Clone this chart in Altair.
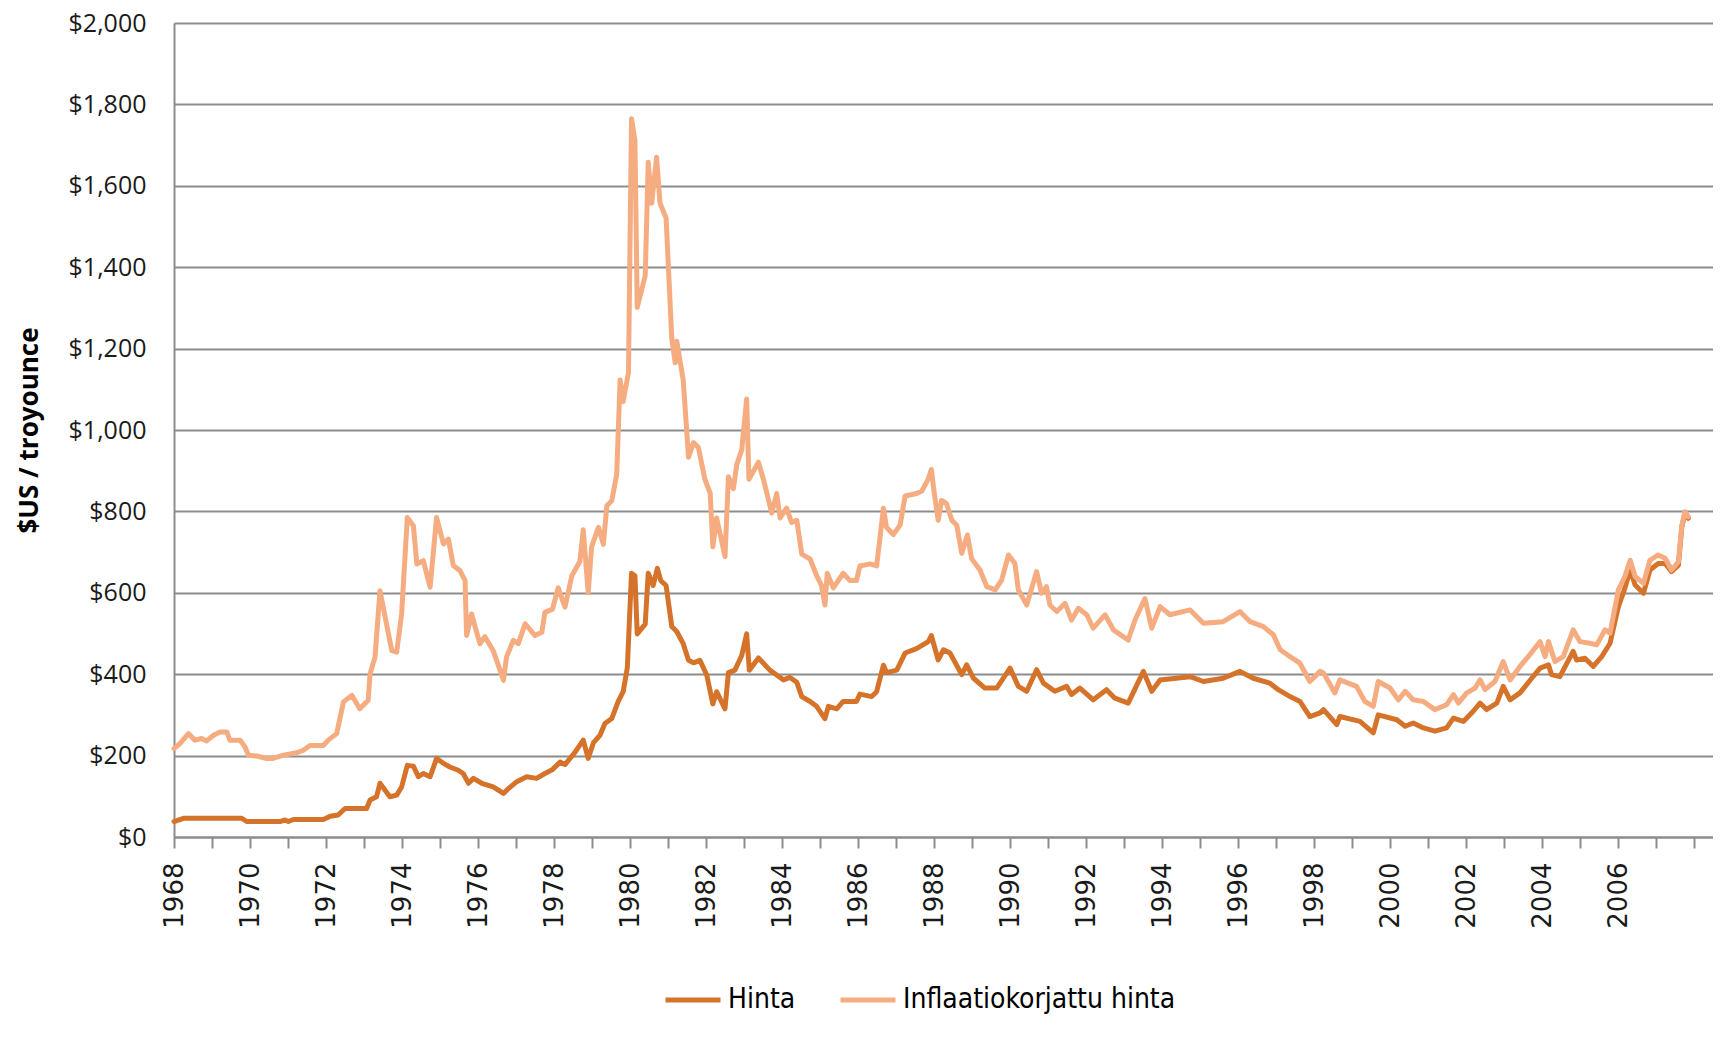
import altair as alt
import pandas as pd

# Nominal gold price (Hinta), $US / troy ounce
hinta_year = [1968.00, 1968.25, 1969.78, 1969.91, 1970.79, 1970.92, 1971.01, 1971.14, 1971.93,
              1972.11, 1972.32, 1972.50, 1973.07, 1973.16, 1973.33, 1973.42, 1973.68, 1973.86,
              1973.99, 1974.14, 1974.30, 1974.43, 1974.56, 1974.74, 1974.91, 1975.09, 1975.26,
              1975.48, 1975.61, 1975.75, 1975.88, 1976.10, 1976.40, 1976.67, 1976.80, 1977.02,
              1977.28, 1977.54, 1977.76, 1977.95, 1978.16, 1978.29, 1978.55, 1978.77, 1978.90,
              1979.04, 1979.21, 1979.34, 1979.52, 1979.69, 1979.82, 1979.93, 1980.04, 1980.13,
              1980.19, 1980.40, 1980.48, 1980.61, 1980.72, 1980.81, 1980.95, 1981.10, 1981.23,
              1981.40, 1981.54, 1981.67, 1981.84, 1982.02, 1982.18, 1982.28, 1982.50, 1982.59,
              1982.76, 1982.94, 1983.07, 1983.14, 1983.38, 1983.68, 1983.86, 1984.04, 1984.21,
              1984.39, 1984.52, 1984.74, 1984.91, 1985.13, 1985.22, 1985.44, 1985.61, 1985.96,
              1986.05, 1986.36, 1986.49, 1986.67, 1986.75, 1987.02, 1987.24, 1987.54, 1987.85,
              1987.93, 1988.11, 1988.25, 1988.42, 1988.73, 1988.86, 1989.04, 1989.34, 1989.65,
              1990.00, 1990.22, 1990.44, 1990.70, 1990.88, 1991.18, 1991.49, 1991.62, 1991.84,
              1992.19, 1992.54, 1992.76, 1993.11, 1993.51, 1993.73, 1993.95, 1994.74, 1995.09,
              1995.61, 1996.05, 1996.40, 1996.84, 1997.06, 1997.37, 1997.63, 1997.89, 1998.16,
              1998.25, 1998.60, 1998.68, 1999.21, 1999.56, 1999.69, 2000.18, 2000.40, 2000.61,
              2000.88, 2001.18, 2001.49, 2001.67, 2001.93, 2002.19, 2002.37, 2002.54, 2002.81,
              2002.98, 2003.16, 2003.42, 2003.73, 2003.95, 2004.17, 2004.25, 2004.47, 2004.82,
              2004.91, 2005.13, 2005.35, 2005.57, 2005.79, 2006.01, 2006.18, 2006.32, 2006.45,
              2006.67, 2006.84, 2007.06, 2007.24, 2007.41, 2007.59, 2007.68, 2007.76, 2007.85]
hinta_value = [38, 46, 46, 38, 38, 42, 38, 43, 43,
               51, 54, 70, 70, 91, 99, 132, 99, 103,
               123, 176, 174, 148, 156, 148, 193, 181, 172,
               164, 156, 132, 144, 132, 123, 107, 119, 136,
               148, 144, 156, 165, 184, 178, 208, 238, 193,
               232, 250, 279, 291, 333, 357, 416, 648, 642,
               499, 523, 648, 618, 660, 630, 618, 517, 505,
               475, 434, 428, 434, 398, 327, 357, 315, 404,
               410, 446, 499, 410, 440, 410, 398, 386, 392,
               380, 345, 333, 321, 291, 321, 315, 333, 333,
               351, 345, 357, 422, 404, 410, 452, 463, 480,
               495, 435, 460, 452, 399, 423, 390, 366, 366,
               415, 370, 358, 411, 378, 358, 370, 350, 366,
               337, 362, 341, 329, 407, 358, 386, 394, 382,
               390, 407, 390, 378, 362, 345, 333, 296, 305,
               313, 276, 296, 284, 256, 300, 288, 272, 280,
               268, 260, 268, 292, 284, 309, 329, 313, 329,
               370, 337, 354, 390, 415, 423, 399, 394, 456,
               435, 439, 419, 443, 476, 566, 611, 656, 619,
               599, 656, 672, 672, 652, 668, 762, 795, 783]

# Inflation-adjusted gold price (Inflaatiokorjattu hinta)
inflaatio_year = [1968.00, 1968.16, 1968.38, 1968.55, 1968.73, 1968.86, 1969.04, 1969.21, 1969.39,
                  1969.47, 1969.74, 1969.87, 1969.96, 1970.18, 1970.44, 1970.61, 1970.88, 1971.23,
                  1971.40, 1971.58, 1971.93, 1972.06, 1972.28, 1972.46, 1972.68, 1972.89, 1973.11,
                  1973.16, 1973.29, 1973.42, 1973.73, 1973.86, 1973.99, 1974.14, 1974.30, 1974.39,
                  1974.56, 1974.74, 1974.91, 1975.09, 1975.22, 1975.35, 1975.53, 1975.66, 1975.70,
                  1975.83, 1976.05, 1976.18, 1976.40, 1976.67, 1976.75, 1976.93, 1977.06, 1977.24,
                  1977.50, 1977.68, 1977.76, 1977.96, 1978.11, 1978.29, 1978.47, 1978.68, 1978.77,
                  1978.90, 1978.99, 1979.17, 1979.30, 1979.39, 1979.52, 1979.65, 1979.74, 1979.82,
                  1979.96, 1980.04, 1980.13, 1980.19, 1980.40, 1980.48, 1980.57, 1980.70, 1980.79,
                  1980.95, 1981.10, 1981.19, 1981.23, 1981.40, 1981.54, 1981.67, 1981.80, 1981.97,
                  1982.11, 1982.18, 1982.28, 1982.50, 1982.59, 1982.72, 1982.81, 1982.94, 1983.07,
                  1983.13, 1983.38, 1983.51, 1983.73, 1983.86, 1983.95, 1984.12, 1984.25, 1984.39,
                  1984.52, 1984.74, 1984.91, 1985.04, 1985.13, 1985.19, 1985.35, 1985.61, 1985.79,
                  1985.96, 1986.05, 1986.32, 1986.49, 1986.67, 1986.75, 1986.93, 1987.11, 1987.24,
                  1987.54, 1987.68, 1987.85, 1987.93, 1988.00, 1988.11, 1988.20, 1988.33, 1988.47,
                  1988.60, 1988.73, 1988.88, 1988.99, 1989.21, 1989.39, 1989.61, 1989.78, 1989.96,
                  1990.13, 1990.22, 1990.44, 1990.70, 1990.83, 1990.96, 1991.05, 1991.23, 1991.45,
                  1991.62, 1991.80, 1992.02, 1992.19, 1992.50, 1992.72, 1993.11, 1993.29, 1993.55,
                  1993.73, 1993.95, 1994.21, 1994.74, 1995.09, 1995.61, 1996.05, 1996.32, 1996.67,
                  1996.93, 1997.11, 1997.37, 1997.63, 1997.89, 1998.16, 1998.25, 1998.55, 1998.68,
                  1999.12, 1999.34, 1999.56, 1999.69, 2000.00, 2000.22, 2000.40, 2000.61, 2000.88,
                  2001.18, 2001.49, 2001.67, 2001.80, 2002.02, 2002.24, 2002.37, 2002.50, 2002.76,
                  2002.98, 2003.16, 2003.42, 2003.68, 2003.95, 2004.08, 2004.17, 2004.34, 2004.56,
                  2004.82, 2005.00, 2005.26, 2005.44, 2005.66, 2005.79, 2006.01, 2006.18, 2006.32,
                  2006.45, 2006.67, 2006.84, 2007.06, 2007.24, 2007.41, 2007.59, 2007.68, 2007.76,
                  2007.85]
inflaatio_value = [217, 230, 254, 238, 242, 236, 250, 258, 258,
                   238, 238, 221, 201, 199, 193, 193, 201, 207,
                   213, 225, 225, 238, 254, 332, 348, 315, 336,
                   401, 442, 605, 458, 454, 548, 785, 765, 671,
                   679, 614, 785, 720, 732, 667, 654, 630, 495,
                   548, 475, 492, 458, 385, 442, 483, 475, 524,
                   495, 503, 552, 560, 612, 565, 642, 677, 755,
                   600, 713, 761, 719, 814, 826, 891, 1123, 1070,
                   1141, 1765, 1711, 1301, 1379, 1658, 1557, 1670, 1557,
                   1521, 1224, 1165, 1218, 1123, 933, 969, 957, 879,
                   844, 713, 784, 689, 885, 856, 915, 951, 1076,
                   879, 921, 879, 796, 844, 784, 808, 773, 778,
                   695, 683, 642, 618, 570, 648, 612, 648, 630,
                   630, 666, 671, 666, 808, 761, 743, 767, 838,
                   844, 850, 880, 903, 850, 778, 827, 819, 778,
                   766, 697, 742, 684, 656, 615, 607, 631, 693,
                   672, 607, 570, 652, 599, 615, 570, 554, 574,
                   533, 562, 546, 513, 546, 509, 484, 533, 586,
                   513, 566, 546, 558, 525, 529, 554, 529, 517,
                   497, 460, 443, 427, 382, 407, 403, 354, 386,
                   370, 333, 321, 382, 366, 337, 358, 337, 333,
                   313, 325, 350, 329, 354, 366, 386, 362, 382,
                   431, 386, 419, 448, 480, 443, 480, 431, 443,
                   509, 480, 476, 472, 509, 501, 607, 640, 680,
                   640, 623, 680, 693, 685, 656, 676, 766, 799,
                   787]

series_names = ["Hinta", "Inflaatiokorjattu hinta"]
series_colors = ["#D6732B", "#F5AC80"]
y_ticks = list(range(0, 2001, 200))
x_ticks = list(range(1968, 2009))

df = pd.concat([
    pd.DataFrame({"vuosi": hinta_year, "hinta": hinta_value, "sarja": series_names[0]}),
    pd.DataFrame({"vuosi": inflaatio_year, "hinta": inflaatio_value, "sarja": series_names[1]}),
], ignore_index=True)

GRID = "#8c8c8c"

chart = alt.Chart(df).mark_line(strokeWidth=5, strokeJoin="round", strokeCap="round").encode(
    x=alt.X(
        "vuosi:Q",
        scale=alt.Scale(domain=[1968, 2008.5], nice=False, zero=False),
        axis=alt.Axis(
            values=x_ticks,
            labelExpr="datum.value % 2 == 0 && datum.value < 2008 ? '' + datum.value : ''",
            labelAngle=-90, labelFont="DejaVu Sans", labelFontSize=26, labelColor="#1a1a1a",
            labelPadding=14, labelOverlap=False, labelFlush=False,
            tickSize=11, tickColor=GRID, tickWidth=2,
            domainColor=GRID, domainWidth=2, grid=False, title=None,
        ),
    ),
    y=alt.Y(
        "hinta:Q",
        scale=alt.Scale(domain=[0, 2000], nice=False),
        axis=alt.Axis(
            values=y_ticks, format="$,.0f",
            labelFont="Open Sans", labelFontSize=25, labelColor="#1a1a1a", labelPadding=28,
            ticks=False, domainColor=GRID, domainWidth=2,
            grid=True, gridColor=GRID, gridWidth=2,
            title="$US / troyounce", titleFont="Open Sans", titleFontSize=26,
            titleFontWeight="bold", titleColor="#000000",
            titleX=-137, titleY=407, titleAngle=270, titleAlign="center",
            titleBaseline="alphabetic",
        ),
    ),
    color=alt.Color(
        "sarja:N",
        scale=alt.Scale(domain=series_names, range=series_colors),
        legend=alt.Legend(
            title=None, orient="none", legendX=489, legendY=947, direction="horizontal",
            symbolType="stroke", symbolSize=3025, symbolStrokeWidth=5,
            labelFont="'DejaVu Sans Condensed', 'Liberation Sans', sans-serif",
            labelFontSize=28, labelColor="#000000",
            labelOffset=5, columnPadding=34, padding=0, labelLimit=600,
        ),
    ),
).properties(
    width=1539,
    height=814,
    autosize=alt.AutoSizeParams(type="none"),
    padding={"left": 166, "top": 15, "right": 0, "bottom": 188},
).configure_view(
    stroke=None
)

chart.save("out.html", embed_options={"renderer": "svg", "actions": False})
